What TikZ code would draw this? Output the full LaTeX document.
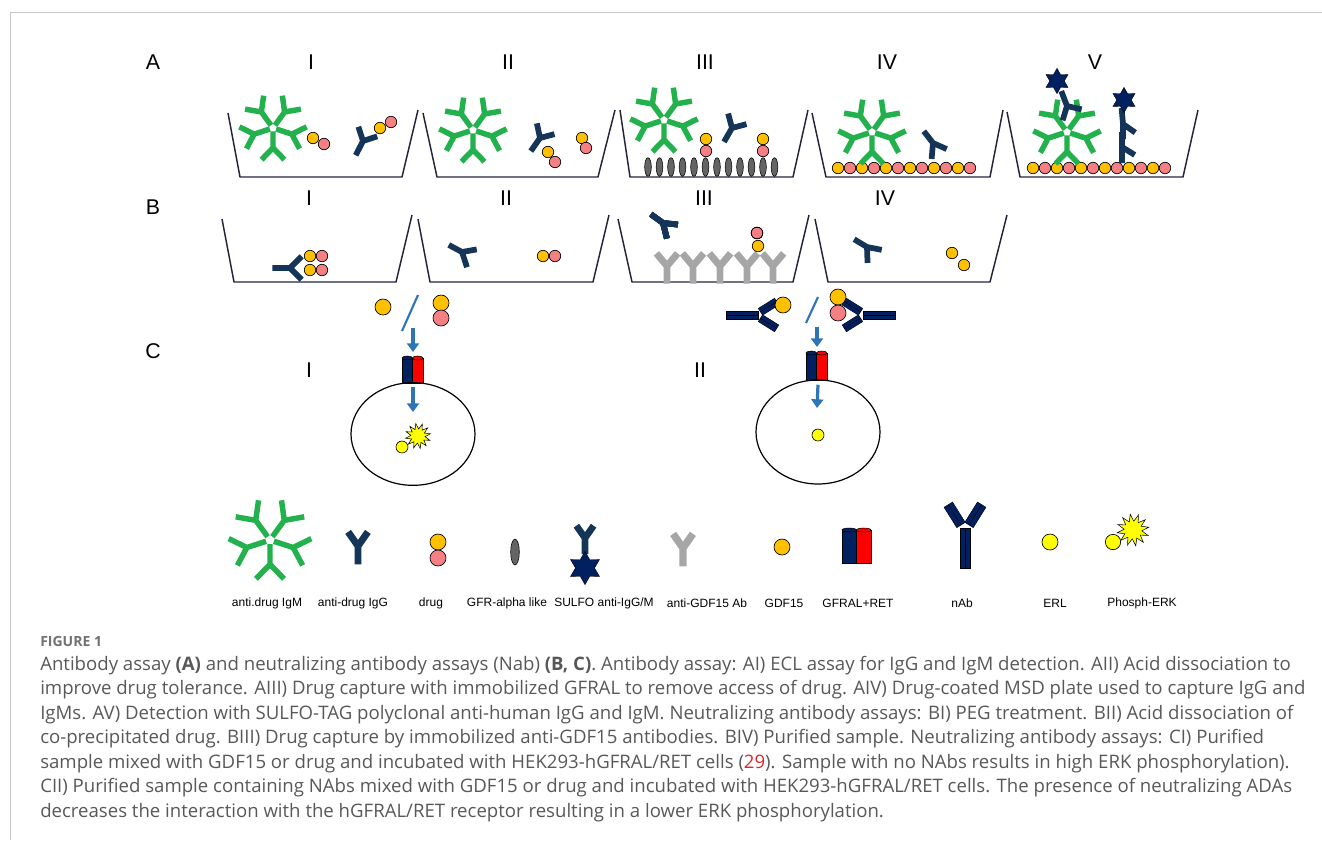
\documentclass[tikz,border=0pt]{standalone}
\usepackage{fontspec}
\setmainfont{Liberation Sans}
\newfontfamily\capfont{Open Sans}
\usetikzlibrary{shapes.geometric, arrows.meta}
\usepackage{xcolor}
\definecolor{igmgreen}{RGB}{34,177,76}
\definecolor{iggnavy}{RGB}{20,52,88}
\definecolor{gdfyellow}{RGB}{255,192,0}
\definecolor{drugpink}{RGB}{244,128,132}
\definecolor{gfrgray}{RGB}{100,100,100}
\definecolor{abgray}{RGB}{166,166,166}
\definecolor{sulfonavy}{RGB}{0,32,96}
\definecolor{retred}{RGB}{255,0,0}
\definecolor{erlyellow}{RGB}{255,255,0}
\definecolor{flowblue}{RGB}{46,117,182}
\definecolor{wellline}{RGB}{35,35,60}
\definecolor{capgray}{RGB}{88,88,88}
\definecolor{framegray}{RGB}{200,200,200}
\definecolor{refred}{RGB}{220,40,40}

% IgM pentamer: centre x, y, scale
\newcommand{\igm}[3]{%
  \begin{scope}[shift={(#1,#2)},scale=#3]
    \foreach \a in {18,90,162,234,306}
      \draw[igmarm] (\a:3) -- (\a:18) -- ++(\a-44:15) (\a:18) -- ++(\a+44:15);
  \end{scope}}
% IgG: junction x, y, stem angle, arm angles, scale, line style
\newcommand{\igg}[7]{%
  \draw[#7,shift={(#1,#2)},scale=#6] (#3:16) -- (0,0) -- (#4:15) (0,0) -- (#5:15);}
% nAb with double bars: junction x, y, rotation, scale
\newcommand{\nab}[4]{%
  \begin{scope}[shift={(#1,#2)},rotate=#3,scale=#4]
    \filldraw[nabbar] (-5,0) rectangle (0,40) (0,0) rectangle (5,40);
    \begin{scope}[shift={(-4,-3)},rotate=32]
      \filldraw[nabbar] (-5,0) rectangle (0,-24) (0,0) rectangle (5,-24);
    \end{scope}
    \begin{scope}[shift={(4,-3)},rotate=-32]
      \filldraw[nabbar] (-5,0) rectangle (0,-24) (0,0) rectangle (5,-24);
    \end{scope}
  \end{scope}}
% GFRAL+RET pair of cylinders: left x, top y, width, height
\newcommand{\receptor}[4]{%
  \filldraw[retnavy] (#1,#2) rectangle ++(#3,#4);
  \filldraw[retred] (#1+#3,#2) rectangle ++(#3,#4);
  \filldraw[retnavy] (#1+#3/2,#2) ellipse [x radius=#3/2, y radius=2];
  \filldraw[retred] (#1+#3*1.5,#2) ellipse [x radius=#3/2, y radius=2];}

\begin{document}
\begin{tikzpicture}[x=0.75pt,y=-0.75pt]
\tikzstyle{well} = [draw=wellline, line width=1.1pt, line join=round]
\tikzstyle{igmarm} = [draw=igmgreen, line width=4.1pt]
\tikzstyle{iggline} = [draw=iggnavy, line width=4.3pt]
\tikzstyle{abline} = [draw=abgray, line width=5.2pt]
\tikzstyle{gdf} = [circle, fill=gdfyellow, draw=black, line width=0.5pt, minimum size=8.6pt, inner sep=0pt]
\tikzstyle{drug} = [gdf, fill=drugpink]
\tikzstyle{big} = [minimum size=12pt]
\tikzstyle{gfr} = [ellipse, fill=gfrgray, draw=black, line width=0.4pt, minimum width=5pt, minimum height=14pt, inner sep=0pt]
\tikzstyle{sulfo} = [star, star points=6, star point ratio=1.75, fill=sulfonavy, draw=black, line width=0.3pt, inner sep=0pt]
\tikzstyle{erl} = [circle, fill=erlyellow, draw=black, line width=0.5pt, minimum size=9pt, inner sep=0pt]
\tikzstyle{burst} = [star, star points=12, star point ratio=1.8, fill=erlyellow, draw=black, line width=0.4pt, inner sep=0pt]
\tikzstyle{cell} = [ellipse, draw=black, line width=0.9pt, inner sep=0pt]
\tikzstyle{flow} = [draw=flowblue, line width=2.4pt, -{Triangle[width=9pt,length=6.5pt]}]
\tikzstyle{slash} = [draw=flowblue, line width=1.6pt]
\tikzstyle{nabbar} = [fill=sulfonavy, draw=black, line width=0.3pt]
\tikzstyle{retnavy} = [fill=sulfonavy, draw=black, line width=0.4pt]
\tikzstyle{retred} = [fill=retred, draw=black, line width=0.4pt]
\tikzstyle{panel} = [inner sep=0pt, font=\fontsize{16}{18}\selectfont]
\tikzstyle{legend} = [inner sep=0pt, font=\fontsize{9}{11}\selectfont]
\tikzstyle{caption} = [anchor=base west, inner sep=0pt, text=capgray, font=\capfont\fontsize{13.95}{16}\selectfont]

\useasboundingbox (0,0) rectangle (1322,840);
\draw[framegray, line width=0.75pt] (10,840) -- (10,12) -- (1322,12);

% row and panel labels
\node[panel] (rowA) at (153,62) {A};
\node[panel] (rowB) at (153,207) {B};
\node[panel] (rowC) at (153,351) {C};
\node[panel] (aI) at (311,62) {I};
\node[panel] (aII) at (508,62) {II};
\node[panel] (aIII) at (705,62) {III};
\node[panel] (aIV) at (887,62) {IV};
\node[panel] (aV) at (1095,62) {V};
\node[panel] (bI) at (309,198) {I};
\node[panel] (bII) at (506,198) {II};
\node[panel] (bIII) at (704,198) {III};
\node[panel] (bIV) at (885,198) {IV};
\node[panel] (cI) at (309,370) {I};
\node[panel] (cII) at (700,370) {II};

% A: antibody assay wells
\draw[well] (228,113) -- (240,177) -- (402,177) -- (418,110);
\draw[well] (423,113) -- (437,177) -- (598,177) -- (615,110);
\draw[well] (620,110) -- (630,177) -- (793,177) -- (808,110);
\draw[well] (812,113) -- (826,177) -- (990,177) -- (1003,110);
\draw[well] (1007,112) -- (1020,177) -- (1183,177) -- (1198,110);

% AI
\igm{273}{128}{1.1}
\node[gdf] (aIy) at (313,138) {};
\node[drug] (aIp) at (324,144) {};
\igg{363}{141}{117}{252}{342}{1}{iggline}
\node[gdf] (aIy2) at (380,128) {};
\node[drug] (aIp2) at (391,122) {};
% AII
\igm{473}{130}{1.1}
\igg{540}{138}{125}{258}{345}{1}{iggline}
\node[gdf] (aIIy) at (548,152) {};
\node[drug] (aIIp) at (555,162) {};
\node[gdf] (aIIy2) at (582,138) {};
\node[drug] (aIIp2) at (586,148) {};
% AIII
\foreach \k in {0,...,11}
  \node[gfr] (gfr\k) at (648+11.5*\k,167) {};
\igm{664}{120}{1.1}
\igg{732}{128}{120}{255}{345}{1}{iggline}
\node[drug] (aIIIp) at (706,151) {};
\node[gdf] (aIIIy) at (706,139) {};
\node[drug] (aIIIp2) at (763,151) {};
\node[gdf] (aIIIy2) at (763,139) {};
% AIV
\foreach \k in {0,...,5} {
  \node[gdf] (aIVy\k) at (838+24*\k,168) {};
  \node[drug] (aIVp\k) at (850+24*\k,168) {};
}
\igm{872}{132}{1.1}
\igg{933}{143}{95}{232}{24}{1}{iggline}
% AV
\foreach \k in {0,...,5} {
  \node[gdf] (aVy\k) at (1033+24*\k,168) {};
  \node[drug] (aVp\k) at (1045+24*\k,168) {};
}
\igm{1067}{132}{1.1}
\igg{1067}{106}{249}{13}{107}{1}{iggline}
\node[sulfo, minimum size=19pt] (tag1) at (1057,81) {};
\igg{1122}{147}{90}{270}{32}{1}{iggline}
\igg{1123}{124}{265}{90}{35}{1}{iggline}
\node[sulfo, minimum size=19pt] (tag2) at (1124,100) {};

% B: neutralizing antibody assay wells
\draw[well] (222,219) -- (234,282) -- (396,282) -- (412,215);
\draw[well] (418,219) -- (430,282) -- (593,282) -- (609,215);
\draw[well] (618,219) -- (632,282) -- (793,282) -- (809,215);
\draw[well] (815,219) -- (828,282) -- (990,282) -- (1007,215);

% BI
\igg{290}{268}{180}{315}{45}{1.1}{iggline}
\node[gdf] (bIy1) at (310,256) {};
\node[drug] (bIp1) at (322,256) {};
\node[gdf] (bIy2) at (310,270) {};
\node[drug] (bIp2) at (322,270) {};
% BII
\igg{462}{252}{72}{208}{350}{1}{iggline}
\node[gdf] (bIIy) at (543,256) {};
\node[drug] (bIIp) at (555,256) {};
% BIII
\foreach \x in {667,693,720,747,773}
  \igg{\x}{266}{90}{230}{310}{1.1}{abline}
\igg{663}{223}{76}{216}{6}{1}{iggline}
\node[drug] (bIIIp) at (757,233) {};
\node[gdf] (bIIIy) at (758,246) {};
% BIV
\igg{867}{247}{88}{211}{11}{1}{iggline}
\node[gdf] (bIVy1) at (952,253) {};
\node[gdf] (bIVy2) at (964,265) {};

% CI
\node[gdf, big] (cIgdf) at (383,307) {};
\draw[slash] (418,295) -- (402,331);
\node[gdf, big] (cIy) at (441,303) {};
\node[drug, big] (cIp) at (441,318) {};
\coordinate (cIin) at (413,328);
\coordinate (cIrec) at (413,352);
\draw[flow] (cIin) -- (cIrec);
\receptor{402}{358}{10.5}{25}
\node[cell, minimum width=93pt, minimum height=77pt] (cellI) at (413,434) {};
\coordinate (cIsig) at (413,412);
\draw[flow] ([yshift=-4pt]cellI.north) -- (cIsig);
\node[burst, minimum size=19pt, rotate=10] (cIburst) at (418,436) {};
\node[erl] (cIerk) at (402,447) {};

% CII
\nab{758}{315}{-90}{0.8}
\node[gdf, big] (cIIgdf) at (783,305) {};
\draw[slash] (818,297) -- (806,323);
\node[gdf, big] (cIIy) at (838,297) {};
\node[drug, big] (cIIp) at (838,313) {};
\nab{863}{315}{90}{0.8}
\coordinate (cIIin) at (817,327);
\coordinate (cIIrec) at (817,347);
\draw[flow] (cIIin) -- (cIIrec);
\receptor{806}{353}{10.5}{27}
\node[cell, minimum width=93pt, minimum height=78pt] (cellII) at (818,432) {};
\coordinate (cIIsig) at (817,408);
\draw[flow] ([yshift=-4pt]cellII.north) -- (cIIsig);
\node[erl] (cIIerk) at (818,435) {};

% legend
\igm{270}{540}{1.35}
\igg{358}{546}{90}{235}{305}{1.15}{iggline, line width=5.2pt}
\node[gdf, big] (legy) at (438,542) {};
\node[drug, big] (legp) at (438,558) {};
\node[gfr, minimum width=6.5pt, minimum height=19.5pt] (leggfr) at (515,552) {};
\igg{585}{538}{90}{235}{305}{1}{iggline, line width=5pt}
\node[sulfo, minimum size=25pt] (legtag) at (585,568) {};
\igg{683}{548}{90}{235}{305}{1.15}{abline, line width=5.5pt}
\node[gdf, big] (leggdf) at (782,547) {};
\receptor{842}{530}{14.5}{33}
\nab{965}{528}{0}{1}
\node[erl, minimum size=12pt] (legerl) at (1050,542) {};
\node[burst, minimum size=24pt, rotate=10] (legburst) at (1133,530) {};
\node[erl, minimum size=11.5pt] (legerk) at (1113,542) {};

\node[legend] (t1) at (267,603) {anti.drug IgM};
\node[legend] (t2) at (353,603) {anti-drug IgG};
\node[legend] (t3) at (431,603) {drug};
\node[legend] (t4) at (507,603) {GFR-alpha like};
\node[legend] (t5) at (604,603) {SULFO anti-IgG/M};
\node[legend] (t6) at (707,603) {anti-GDF15 Ab};
\node[legend] (t7) at (784,603) {GDF15};
\node[legend] (t8) at (858,603) {GFRAL+RET};
\node[legend] (t9) at (962,603) {nAb};
\node[legend] (t10) at (1055,603) {ERL};
\node[legend] (t11) at (1142,603) {Phosph-ERK};

% caption
\node[anchor=base west, inner sep=0pt, text=capgray!85, font=\capfont\bfseries\fontsize{10.5}{12}\selectfont] (fig) at (40,646) {FIGURE 1};
\node[caption] (cap1) at (40,670) {Antibody assay \textbf{(A)} and neutralizing antibody assays (Nab) \textbf{(B, C)}. Antibody assay: AI) ECL assay for IgG and IgM detection. AII) Acid dissociation to};
\node[caption] (cap2) at (40,694.5) {improve drug tolerance. AIII) Drug capture with immobilized GFRAL to remove access of drug. AIV) Drug-coated MSD plate used to capture IgG and};
\node[caption] (cap3) at (40,719) {IgMs. AV) Detection with SULFO-TAG polyclonal anti-human IgG and IgM. Neutralizing antibody assays: BI) PEG treatment. BII) Acid dissociation of};
\node[caption] (cap4) at (40,743.5) {co-precipitated drug. BIII) Drug capture by immobilized anti-GDF15 antibodies. BIV) Purified sample. Neutralizing antibody assays: CI) Purified};
\node[caption] (cap5) at (40,768) {sample mixed with GDF15 or drug and incubated with HEK293-hGFRAL/RET cells ({\color{refred}29}). Sample with no NAbs results in high ERK phosphorylation).};
\node[caption] (cap6) at (40,792.5) {CII) Purified sample containing NAbs mixed with GDF15 or drug and incubated with HEK293-hGFRAL/RET cells. The presence of neutralizing ADAs};
\node[caption] (cap7) at (40,817) {decreases the interaction with the hGFRAL/RET receptor resulting in a lower ERK phosphorylation.};
\end{tikzpicture}
\end{document}
